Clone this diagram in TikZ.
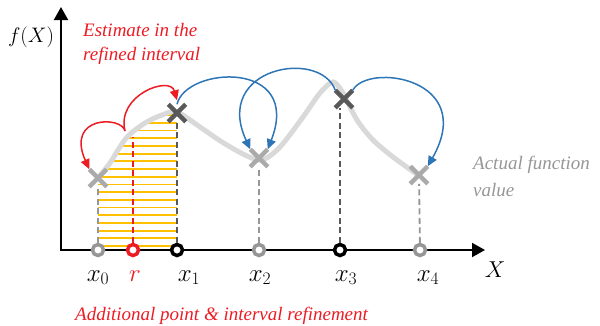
\RequirePackage{fix-cm}
\documentclass[tikz,border=0pt]{standalone}
\usepackage{fontspec}
\setmainfont{Liberation Serif}[ItalicFont={Liberation Serif Italic}]
\usetikzlibrary{arrows.meta, shapes.misc, positioning}
\definecolor{cR}{RGB}{237,28,36}
\definecolor{cB}{RGB}{46,117,182}
\definecolor{cY}{RGB}{255,192,0}
\definecolor{cL}{RGB}{217,217,217}
\definecolor{cG}{RGB}{170,170,170}
\definecolor{cM}{RGB}{150,150,150}
\definecolor{cD}{RGB}{89,89,89}

\begin{document}
\begin{tikzpicture}[x=1pt, y=-1pt,
    axisline/.style={line width=2pt, {Triangle[length=13pt,width=14pt]}-{Triangle[length=13pt,width=14pt]}},
    axpt/.style={circle, draw=#1, line width=3.5pt, fill=white, minimum size=11pt, inner sep=0pt},
    xmark/.style={cross out, draw=#1, line width=4.5pt, minimum size=13pt, inner sep=0pt},
    drop/.style={draw=#1, line width=1.8pt, dash pattern=on 6pt off 3.5pt},
    jump/.style={draw=#1, line width=1.5pt, -{Triangle[length=10pt,width=9pt,#1]}},
    lbl/.style={font=\fontsize{25}{28}\selectfont, anchor=base, inner sep=0pt},
    note/.style={font=\fontsize{19}{24}\selectfont\itshape, inner sep=0pt}]
    \useasboundingbox (0,0) rectangle (600,325);

    % refined interval, hatched under the curve
    \begin{scope}
        \clip (98,100) rectangle (177,248);
        \clip plot[smooth] coordinates {(98,178) (110,163) (118,150) (128,136) (145,123) (162,115) (177,112) (200,127) (222,142) (245,155) (262,160)} -- (262,250) -- (98,250) -- cycle;
        \foreach \i in {0,...,17}
            \draw[cY, line width=1.8pt] (98,{246-7.7*\i}) -- (177,{246-7.7*\i});
    \end{scope}

    % actual function
    \draw[cL, line width=5pt, line cap=round] plot[smooth] coordinates {(98,178) (110,163) (118,150) (128,136) (145,123) (162,115) (177,112) (200,127) (222,142) (245,155) (262,160) (280,147) (303,117) (320,93) (333,82) (343,93) (357,120) (373,140) (393,157) (418,175)};

    % axes
    \coordinate (O) at (61,250);
    \coordinate (ytop) at (61,7);
    \coordinate (xend) at (485,250);
    \draw[axisline] (ytop) -- (O) -- (xend);
    \node[lbl, font=\fontsize{21}{24}\selectfont] (ylbl) at (31,42) {$f(X)$};
    \node[lbl, font=\fontsize{23}{26}\selectfont] (xlbl) at (495,277) {$X$};

    % points on the axis
    \node[axpt=cM] (p0) at (98,250) {};
    \node[axpt=cR] (pr) at (133,250) {};
    \node[axpt=black] (p1) at (177,250) {};
    \node[axpt=cM] (p2) at (259,250) {};
    \node[axpt=black] (p3) at (340,250) {};
    \node[axpt=cM] (p4) at (420,250) {};

    \node[lbl] (l0) at (98,281) {$x_0$};
    \node[lbl, text=cR] (lr) at (135,281) {$r$};
    \node[lbl] (l1) at (189,281) {$x_1$};
    \node[lbl] (l2) at (260,281) {$x_2$};
    \node[lbl] (l3) at (346,281) {$x_3$};
    \node[lbl] (l4) at (428,281) {$x_4$};

    % function values
    \node[xmark=cG] (c0) at (98,178) {};
    \node[xmark=cD] (c1) at (177,113) {};
    \node[xmark=cG] (c2) at (259,158) {};
    \node[xmark=cD] (c3) at (344,99) {};
    \node[xmark=cG] (c4) at (419,175) {};
    \coordinate (rtop) at (133,137);
    \coordinate (est) at (125,131);

    \draw[drop=cM] (p0) -- (c0);
    \draw[drop=cR] (pr) -- (rtop);
    \draw[drop=cD] (p1) -- (c1);
    \draw[drop=cM] (p2) -- (c2);
    \draw[drop=cD] (p3) -- (p3 |- c3.south);
    \draw[drop=cM] (p4) -- (c4);

    % estimates
    \draw[jump=cR] (est) .. controls +(-3,-15) and +(-24,-54) .. (c0.north west);
    \draw[jump=cR] (est) .. controls +(-9,-36) and +(-7,-25) .. ([yshift=4pt]c1.north);
    \draw[jump=cB] (c1.north) .. controls +(9,-38) and +(35,-90) .. (c2.north east);
    \draw[jump=cB] (c3.north west) .. controls +(-15,-42) and +(-38,-82) .. (c2.north west);
    \draw[jump=cB] (c3.north east) .. controls +(15,-28) and +(50,-88) .. (c4.north east);

    \node[note, text=cR, align=left, anchor=north west] (esttxt) at (83,23) {Estimate in the\\refined interval};
    \node[note, text=cM, align=left, anchor=north west, font=\fontsize{19}{26.5}\selectfont\itshape] (acttxt) at (473,156) {Actual function\\value};
    \node[note, text=cR, anchor=base west] (addtxt) at (75,320.5) {Additional point \& interval refinement};
\end{tikzpicture}
\end{document}
